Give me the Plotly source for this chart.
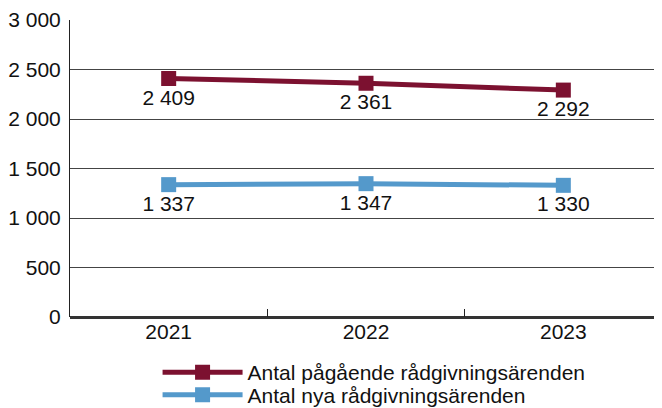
import plotly.graph_objects as go

years = ["2021", "2022", "2023"]
pagaende = [2409, 2361, 2292]
nya = [1337, 1347, 1330]
names = ["Antal pågående rådgivningsärenden", "Antal nya rådgivningsärenden"]
colors = ["#7C1130", "#5499CB"]

FONT = "Liberation Sans, Arial"

fig = go.Figure()
for vals, name, col, leg in [(pagaende, names[0], colors[0], "legend"),
                             (nya, names[1], colors[1], "legend2")]:
    fig.add_trace(go.Scatter(
        x=years, y=vals, name=name, mode="lines+markers+text",
        line=dict(color=col, width=5),
        marker=dict(symbol="square", size=15, color=col),
        texttemplate="%{y:,}", textposition="bottom center",
        textfont=dict(size=21, color="#111", family=FONT),
        cliponaxis=False, legend=leg,
    ))

leg_common = dict(orientation="v", xanchor="left", xref="container",
                  yanchor="top", yref="container", font=dict(size=21),
                  itemwidth=80, bgcolor="rgba(0,0,0,0)")

fig.update_layout(
    width=654, height=400,
    margin=dict(l=62, r=0, t=12, b=91, autoexpand=False),
    paper_bgcolor="white", plot_bgcolor="white",
    separators=", ",
    font=dict(family=FONT, size=21, color="#111"),
    showlegend=True,
    legend=dict(x=0.2287, y=0.14, **leg_common),
    legend2=dict(x=0.2287, y=0.0835, **leg_common),
    xaxis=dict(type="category", range=[-0.5, 2.5], showgrid=False,
               tickson="boundaries", ticks="inside", ticklen=8, tickcolor="#222",
               showline=False, tickfont=dict(size=21), automargin=False),
    yaxis=dict(range=[0, 3000], dtick=500, tickformat=",", showgrid=True,
               gridcolor="#444", gridwidth=1, showline=True, linecolor="#222",
               linewidth=1, zeroline=True, zerolinecolor="#333", zerolinewidth=3,
               ticks="", tickfont=dict(size=21), ticklabelstandoff=4,
               automargin=False),
)

fig.write_html("out.html")
